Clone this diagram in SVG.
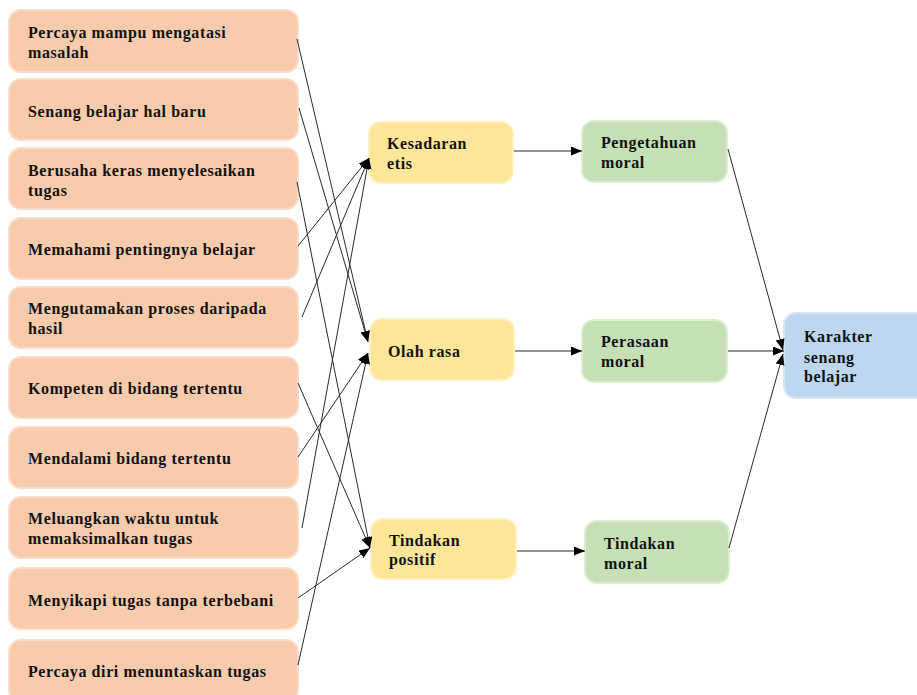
<svg xmlns="http://www.w3.org/2000/svg" width="917" height="695" viewBox="0 0 917 695">
<style>
.box{stroke-width:2}
.l{fill:#F8CBAD;stroke:#FBDCC6}
.y{fill:#FFE699;stroke:#FFF0C0}
.g{fill:#C5E0B4;stroke:#DCEED0}
.b{fill:#BDD7EE;stroke:#D6E6F5}
text{font-family:"Liberation Serif","Times New Roman",serif;font-weight:bold;font-size:16px;letter-spacing:0.6px;fill:#111}
.c line{stroke:#2a2a2a;stroke-width:1;fill:none}
</style>
<defs>
<marker id="ah" markerUnits="userSpaceOnUse" markerWidth="12" markerHeight="10" refX="11" refY="4.5" orient="auto">
<path d="M0,0 L11,4.5 L0,9 z" fill="#000"/>
</marker>
</defs>
<rect width="917" height="695" fill="#fff"/>
<g id="n1"><rect class="box l" x="9" y="10" width="289" height="62" rx="12"/><text x="28" y="37.5">Percaya mampu mengatasi</text><text x="28" y="57.5">masalah</text></g>
<g id="n2"><rect class="box l" x="9" y="79" width="289" height="61" rx="12"/><text x="28" y="117">Senang belajar hal baru</text></g>
<g id="n3"><rect class="box l" x="9" y="148" width="289" height="61" rx="12"/><text x="28" y="176">Berusaha keras menyelesaikan</text><text x="28" y="195.5">tugas</text></g>
<g id="n4"><rect class="box l" x="9" y="218" width="289" height="61" rx="12"/><text x="28" y="255">Memahami pentingnya belajar</text></g>
<g id="n5"><rect class="box l" x="9" y="287" width="289" height="61" rx="12"/><text x="28" y="314">Mengutamakan proses daripada</text><text x="28" y="334">hasil</text></g>
<g id="n6"><rect class="box l" x="9" y="357" width="289" height="61" rx="12"/><text x="28" y="394">Kompeten di bidang tertentu</text></g>
<g id="n7"><rect class="box l" x="9" y="427" width="289" height="61" rx="12"/><text x="28" y="463.5">Mendalami bidang tertentu</text></g>
<g id="n8"><rect class="box l" x="9" y="497" width="289" height="61" rx="12"/><text x="28" y="523.5">Meluangkan waktu untuk</text><text x="28" y="543.5">memaksimalkan tugas</text></g>
<g id="n9"><rect class="box l" x="9" y="568" width="289" height="61" rx="12"/><text x="28" y="605.5">Menyikapi tugas tanpa terbebani</text></g>
<g id="n10"><rect class="box l" x="9" y="640" width="289" height="62" rx="12"/><text x="28" y="677">Percaya diri menuntaskan tugas</text></g>
<g id="m1"><rect class="box y" x="369" y="122" width="144" height="61" rx="12"/><text x="387" y="149">Kesadaran</text><text x="387" y="168.5">etis</text></g>
<g id="m2"><rect class="box y" x="370" y="319" width="144" height="61" rx="12"/><text x="388" y="357">Olah rasa</text></g>
<g id="m3"><rect class="box y" x="371" y="519" width="145" height="60" rx="12"/><text x="389" y="545.5">Tindakan</text><text x="389" y="565">positif</text></g>
<g id="r1"><rect class="box g" x="582" y="121" width="145" height="61" rx="12"/><text x="601" y="148">Pengetahuan</text><text x="601" y="168">moral</text></g>
<g id="r2"><rect class="box g" x="582" y="320" width="145" height="62" rx="12"/><text x="601" y="347">Perasaan</text><text x="601" y="366.5">moral</text></g>
<g id="r3"><rect class="box g" x="585" y="521" width="144" height="62" rx="12"/><text x="604" y="549">Tindakan</text><text x="604" y="568.5">moral</text></g>
<g id="k"><rect class="box b" x="784" y="313" width="150" height="85" rx="12"/><text x="804" y="342">Karakter</text><text x="804" y="362.5">senang</text><text x="804" y="382">belajar</text></g>
<g class="c" id="connectors">
<line x1="297" y1="39" x2="368" y2="342" marker-end="url(#ah)"/>
<line x1="299" y1="108" x2="368" y2="342" marker-end="url(#ah)"/>
<line x1="297" y1="182" x2="370" y2="548" marker-end="url(#ah)"/>
<line x1="298" y1="246" x2="369" y2="158" marker-end="url(#ah)"/>
<line x1="302" y1="317" x2="369" y2="158" marker-end="url(#ah)"/>
<line x1="298" y1="383" x2="370" y2="548" marker-end="url(#ah)"/>
<line x1="298" y1="457" x2="368" y2="353" marker-end="url(#ah)"/>
<line x1="302" y1="528" x2="369" y2="158" marker-end="url(#ah)"/>
<line x1="298" y1="598" x2="370" y2="548" marker-end="url(#ah)"/>
<line x1="298" y1="665" x2="368" y2="353" marker-end="url(#ah)"/>
<line x1="514" y1="151" x2="582" y2="151" marker-end="url(#ah)"/>
<line x1="515" y1="351" x2="582" y2="351" marker-end="url(#ah)"/>
<line x1="517" y1="551" x2="585" y2="551" marker-end="url(#ah)"/>
<line x1="728" y1="149" x2="783" y2="350" marker-end="url(#ah)"/>
<line x1="728" y1="351" x2="784" y2="351" marker-end="url(#ah)"/>
<line x1="729" y1="548" x2="783" y2="354" marker-end="url(#ah)"/>
</g>
</svg>
